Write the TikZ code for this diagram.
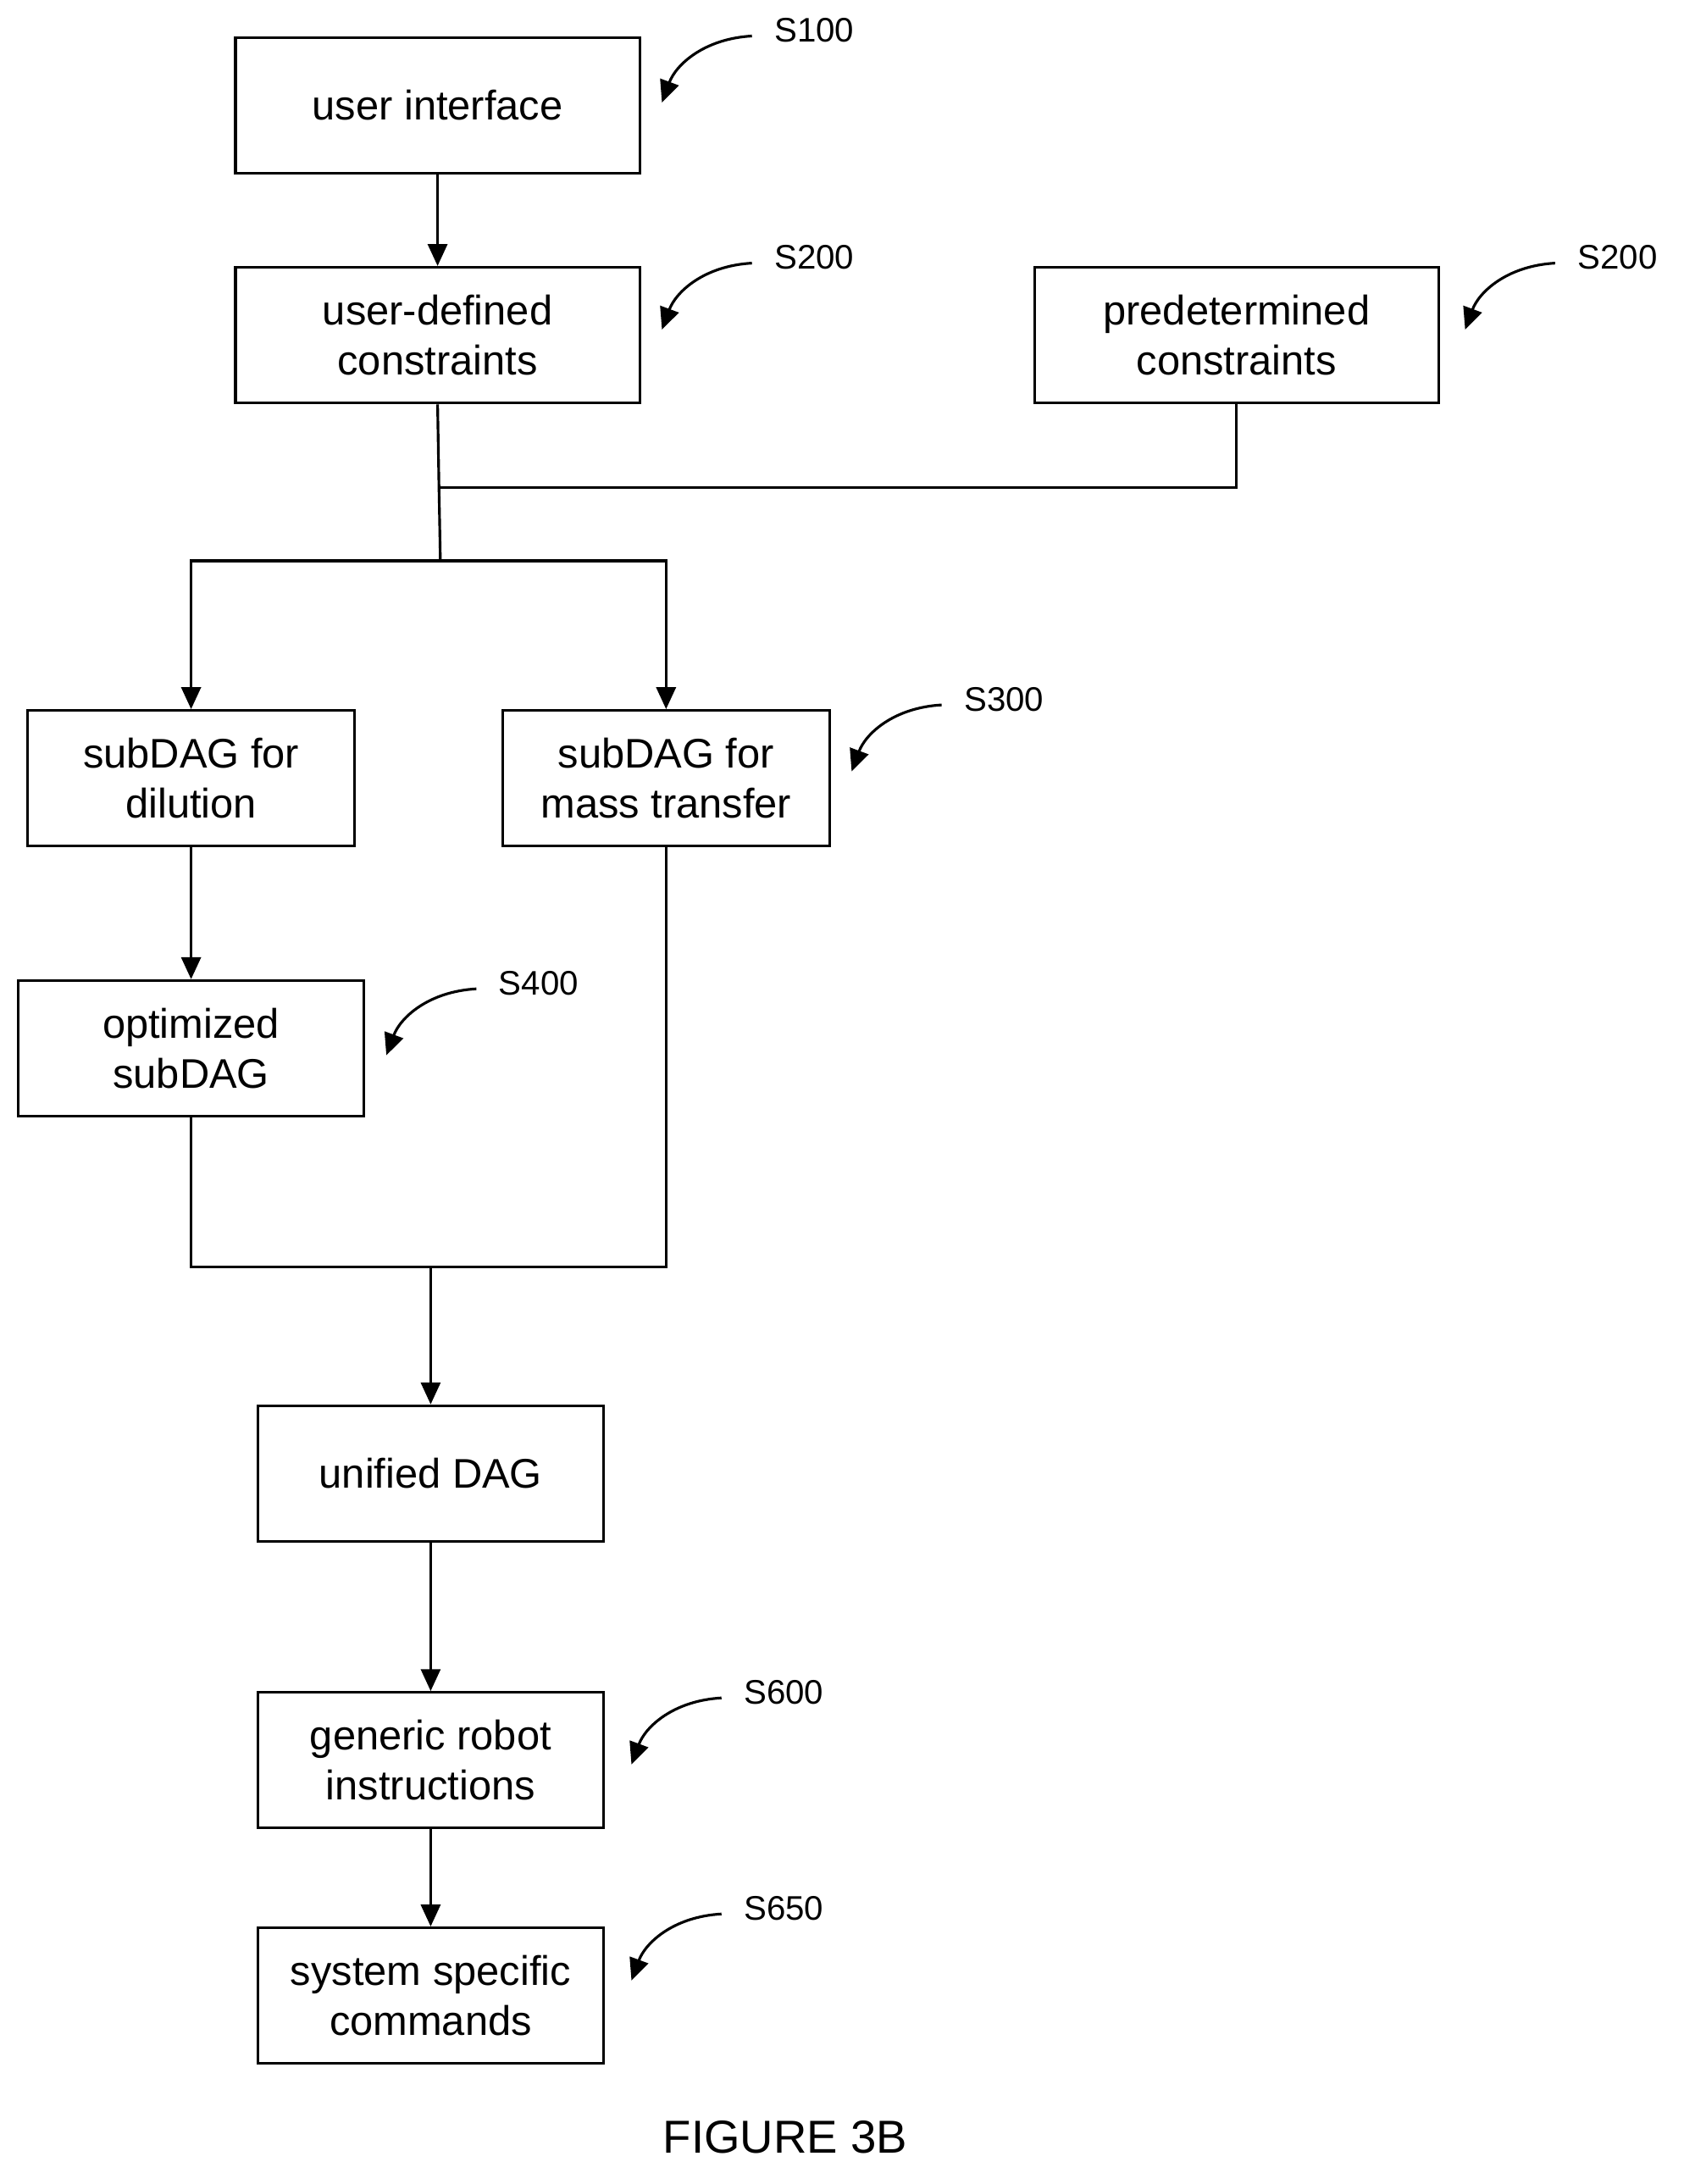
\documentclass[tikz,border=0pt]{standalone}
\usepackage{fontspec}
\setmainfont{Liberation Sans}
\usetikzlibrary{arrows.meta}
\begin{document}
\begin{tikzpicture}[x=0.02cm,y=-0.02cm,
 box/.style={draw,line width=1.1pt,align=center,font=\fontsize{17}{20.5}\selectfont,inner sep=0pt},
 w1/.style={minimum width=5.84cm,minimum height=1.96cm},
 w2/.style={minimum width=4.72cm,minimum height=1.96cm},
 w3/.style={minimum width=5.0cm,minimum height=1.96cm},
 arr/.style={line width=1.1pt,-{Triangle[length=9pt,width=8pt]}},
 ln/.style={line width=1.1pt},
 lbl/.style={font=\fontsize{14}{16}\selectfont,inner sep=0pt},
 carr/.style={line width=1.1pt,-{Triangle[length=9pt,width=8pt]}}]
\useasboundingbox (0,0) rectangle (1216,1577);
\node[box,w1] (ui) at (316,76) {user interface};
\node[box,w1] (udc) at (316,242) {user-defined\\constraints};
\node[box,w1] (pc) at (893,242) {predetermined\\constraints};
\node[box,w2] (dil) at (138,562) {subDAG for\\dilution};
\node[box,w2] (mass) at (481,562) {subDAG for\\mass transfer};
\node[box,w3] (opt) at (138,757) {optimized\\subDAG};
\node[box,w3] (uni) at (311,1064) {unified DAG};
\node[box,w3] (gen) at (311,1271) {generic robot\\instructions};
\node[box,w3] (sys) at (311,1441) {system specific\\commands};
\node[font=\fontsize{19}{22}\selectfont] (fig) at (567,1543) {FIGURE 3B};
\coordinate (j1) at (317,352);
\coordinate (j2) at (318,405);
\coordinate (j3) at (311,915);
\draw[arr] (ui) -- (udc);
\draw[ln] (udc.south) -- (j1) -- (j2);
\draw[ln] (pc.south) |- (j1);
\draw[arr] (j2) -| (dil.north);
\draw[arr] (j2) -| (mass.north);
\draw[arr] (dil) -- (opt);
\draw[ln] (opt.south) |- (j3) -| (mass.south);
\draw[arr] (j3) -- (uni);
\draw[arr] (uni) -- (gen);
\draw[arr] (gen) -- (sys);
\foreach \n/\t/\x/\y in {a/S100/588/22,b/S200/588/186,c/S200/1168/186,d/S300/725/505,e/S400/389/710,f/S600/566/1222,g/S650/566/1378}{
 \node[lbl] (\n) at (\x,\y) {\t};
 \coordinate (\n s) at (\x-45,\y+4);
 \coordinate (\n e) at (\x-110,\y+52);
 \draw[carr] (\n s) .. controls (\x-80,\y+6) and (\x-100,\y+25) .. (\n e);
}
\end{tikzpicture}
\end{document}
